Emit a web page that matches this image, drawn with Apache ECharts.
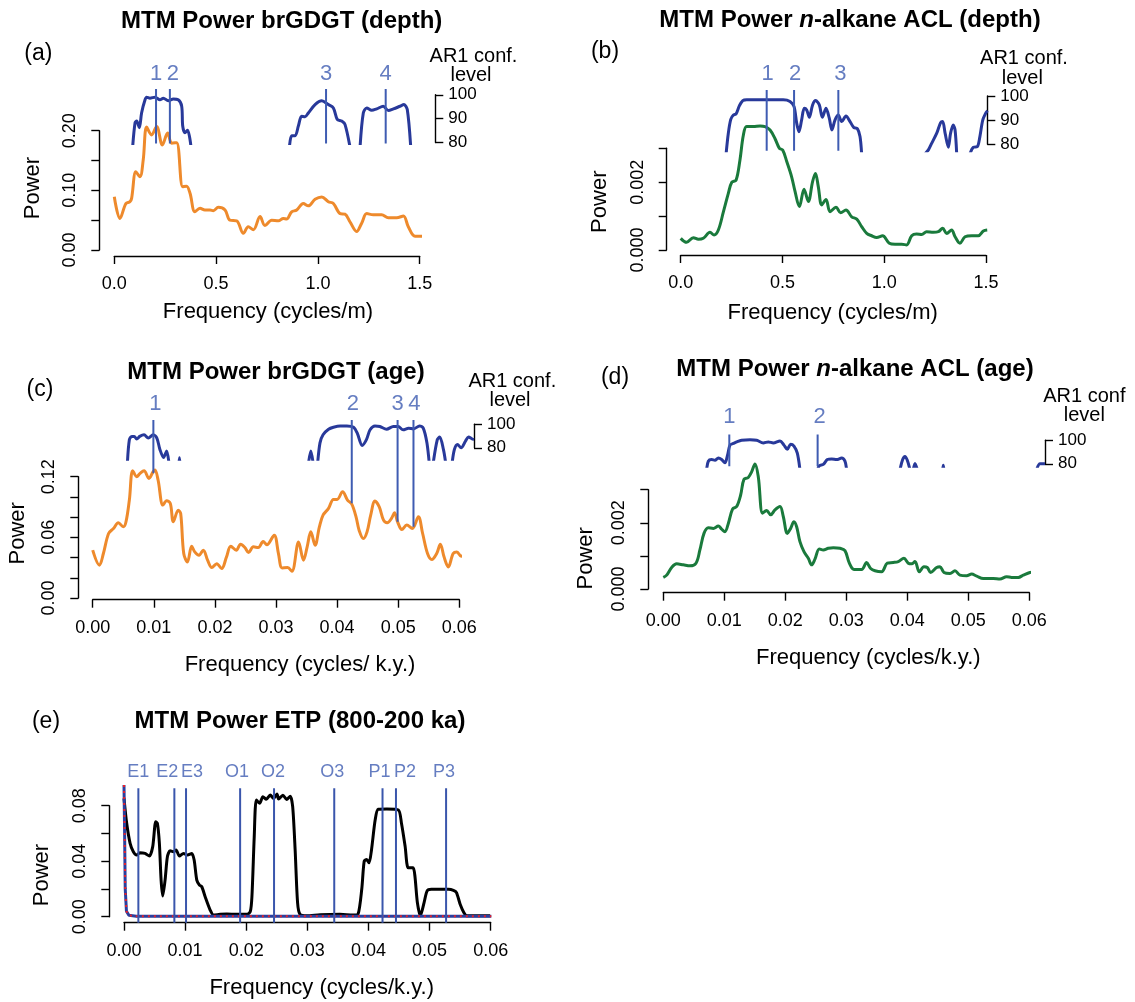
<!DOCTYPE html>
<html><head><meta charset="utf-8">
<script src="https://cdn.jsdelivr.net/npm/echarts@6/dist/echarts.min.js"></script>
<style>html,body{margin:0;padding:0;background:#fff}#c{width:1135px;height:1002px}</style>
</head><body><div id="c"></div>
<script>
// ================= DATA =================
// (a) brGDGT depth spectrum  [frequency cycles/m, power]
const brgdgtDepthPower = [[0,0.0894],[0.028,0.053],[0.057,0.078],[0.077,0.081],[0.085,0.0866],[0.106,0.131],[0.126,0.123],[0.142,0.151],[0.159,0.206],[0.183,0.193],[0.208,0.207],[0.236,0.176],[0.262,0.196],[0.282,0.179],[0.306,0.180],[0.336,0.106],[0.355,0.107],[0.372,0.095],[0.396,0.064],[0.421,0.070],[0.445,0.067],[0.470,0.067],[0.486,0.066],[0.511,0.0715],[0.544,0.067],[0.568,0.050],[0.601,0.049],[0.634,0.028],[0.658,0.039],[0.683,0.034],[0.716,0.056],[0.740,0.041],[0.773,0.050],[0.806,0.049],[0.830,0.053],[0.846,0.052],[0.871,0.064],[0.896,0.067],[0.928,0.078],[0.953,0.074],[0.986,0.085],[1.019,0.089],[1.051,0.081],[1.076,0.078],[1.109,0.061],[1.133,0.060],[1.158,0.047],[1.190,0.031],[1.215,0.045],[1.240,0.061],[1.272,0.059],[1.313,0.059],[1.346,0.054],[1.387,0.054],[1.420,0.057],[1.444,0.039],[1.477,0.023],[1.518,0.023],[1.562,0.032]];
const brgdgtDepthConf = [
  [[0.090,78],[0.102,88.3],[0.110,89],[0.123,86.2],[0.134,92.4],[0.151,97.9],[0.159,99],[0.175,98.6],[0.200,99],[0.224,97.9],[0.241,98.6],[0.265,97.5],[0.290,98.2],[0.314,97.9],[0.331,95.2],[0.336,86.9],[0.347,84.1],[0.360,85.1],[0.377,78]],
  [[0.860,78],[0.871,82.8],[0.888,82.8],[0.904,86.9],[0.920,91],[0.937,90.8],[0.953,92.4],[0.986,95.9],[1.019,97.5],[1.051,95.9],[1.076,94.5],[1.095,89.7],[1.117,89],[1.133,87.6],[1.158,78]],
  [[1.207,78],[1.223,92.4],[1.240,94.5],[1.264,93.5],[1.289,94.1],[1.321,95.2],[1.346,93.4],[1.371,94.1],[1.403,95.2],[1.423,95.9],[1.439,93.8],[1.456,78]]
];
const brgdgtDepthPeaks = [0.205, 0.273, 1.040, 1.333];
const brgdgtDepthPeakNames = ['1','2','3','4'];
const brgdgtDepthYLabels = [0, 0.10, 0.20];

// (b) n-alkane ACL depth spectrum
const aclDepthPower = [[0,0.000344],[0.029,0.000226],[0.062,0.000364],[0.087,0.000315],[0.111,0.000344],[0.144,0.000521],[0.164,0.000442],[0.185,0.00059],[0.210,0.00113],[0.234,0.00167],[0.251,0.0020],[0.272,0.00206],[0.291,0.00265],[0.308,0.00339],[0.324,0.00364],[0.357,0.00364],[0.390,0.00366],[0.414,0.00364],[0.439,0.00354],[0.463,0.00329],[0.485,0.0030],[0.501,0.00295],[0.521,0.00261],[0.545,0.00216],[0.562,0.00172],[0.583,0.00128],[0.606,0.00179],[0.627,0.00143],[0.648,0.00202],[0.662,0.00226],[0.676,0.00187],[0.693,0.00133],[0.714,0.00149],[0.734,0.00113],[0.763,0.00126],[0.786,0.0011],[0.812,0.00118],[0.840,0.00098],[0.865,0.00091],[0.889,0.00069],[0.914,0.00049],[0.938,0.00042],[0.963,0.00037],[0.992,0.00042],[1.025,0.0002],[1.053,0.00017],[1.086,0.00017],[1.110,0.00015],[1.135,0.00042],[1.159,0.00047],[1.184,0.00046],[1.208,0.00054],[1.241,0.00052],[1.266,0.00054],[1.287,0.00064],[1.307,0.00049],[1.331,0.00059],[1.348,0.00039],[1.372,0.0002],[1.397,0.00039],[1.430,0.00042],[1.462,0.00042],[1.487,0.00056],[1.506,0.00059]];
const aclDepthConf = [
  [[0.223,76],[0.234,84.6],[0.246,90.3],[0.259,92.1],[0.272,92.6],[0.288,95.9],[0.305,98.1],[0.324,98.4],[0.373,98.4],[0.439,98.4],[0.504,98.4],[0.537,97.7],[0.557,95.6],[0.570,88.7],[0.581,85.2],[0.594,90],[0.607,94.9],[0.619,94.2],[0.632,91.2],[0.648,96.3],[0.663,98.1],[0.681,96.3],[0.696,91.2],[0.714,94.9],[0.730,90.8],[0.743,85.9],[0.758,90],[0.774,92.1],[0.791,89.4],[0.812,91.7],[0.832,89.4],[0.851,86.9],[0.868,86.5],[0.881,83.2],[0.889,76]],
  [[1.200,76],[1.217,77.7],[1.233,80.4],[1.258,84.6],[1.277,89],[1.287,89.4],[1.299,84.6],[1.315,78.8],[1.326,84.6],[1.339,88],[1.348,85.9],[1.356,76]],
  [[1.421,76],[1.438,78.8],[1.457,79],[1.470,83.2],[1.484,90],[1.500,93.1],[1.508,93.9]]
];
const aclDepthPeaks = [0.4225, 0.557, 0.7745];
const aclDepthPeakNames = ['1','2','3'];
const aclDepthYLabels = [0, 0.002];

// (c) brGDGT age spectrum  [frequency cycles/k.y., power]
const brgdgtAgePower = [[0,0.0473],[0.0011,0.0324],[0.00175,0.044],[0.0026,0.0638],[0.0034,0.0688],[0.0042,0.0744],[0.005,0.0704],[0.00545,0.0754],[0.006,0.0969],[0.00655,0.126],[0.0072,0.12],[0.00775,0.1233],[0.0084,0.126],[0.0092,0.1183],[0.0099,0.125],[0.0102,0.1266],[0.0107,0.1167],[0.0115,0.0919],[0.0121,0.0962],[0.0127,0.0936],[0.0132,0.0754],[0.014,0.0869],[0.0144,0.0836],[0.0149,0.044],[0.0155,0.0357],[0.0162,0.0512],[0.0167,0.0456],[0.0174,0.0423],[0.0181,0.0473],[0.0188,0.0374],[0.0195,0.0301],[0.0203,0.034],[0.0211,0.0291],[0.0219,0.0407],[0.0226,0.0512],[0.0235,0.0473],[0.0242,0.0532],[0.0249,0.0499],[0.0255,0.045],[0.0263,0.0506],[0.0271,0.0499],[0.0279,0.0559],[0.0285,0.0526],[0.0297,0.0621],[0.0304,0.044],[0.031,0.0298],[0.0319,0.0301],[0.0326,0.0264],[0.0337,0.0555],[0.0345,0.0374],[0.0351,0.0506],[0.0357,0.0655],[0.0364,0.0522],[0.0371,0.0704],[0.0377,0.082],[0.0386,0.0886],[0.0394,0.0975],[0.04,0.0975],[0.0409,0.1051],[0.0417,0.0969],[0.0424,0.0929],[0.0431,0.0803],[0.0436,0.0671],[0.0443,0.0588],[0.0449,0.0654],[0.0455,0.082],[0.0462,0.0959],[0.0469,0.0902],[0.0476,0.077],[0.0482,0.0744],[0.0489,0.0787],[0.0494,0.0843],[0.0499,0.0754],[0.0506,0.0678],[0.0514,0.0721],[0.0523,0.0688],[0.0533,0.0803],[0.054,0.0638],[0.0548,0.044],[0.0555,0.038],[0.0563,0.044],[0.0569,0.0532],[0.0575,0.0407],[0.0582,0.0307],[0.059,0.044],[0.0596,0.0456],[0.0603,0.0413],[0.0615,0.0489],[0.0624,0.045]];
const brgdgtAgeConf = [
  [[0.00567,66],[0.006,86.9],[0.0064,89.7],[0.0068,89.7],[0.0072,87.5],[0.0077,89.7],[0.0084,91.1],[0.0091,88.3],[0.0099,91.1],[0.0105,88.3],[0.011,78.6],[0.0116,71.7],[0.0121,77.2],[0.0125,66]],
  [[0.0141,66],[0.0142,71.5],[0.0143,66]],
  [[0.0353,66],[0.0357,77.2],[0.0361,66]],
  [[0.0368,66],[0.0372,84.2],[0.0377,91.1],[0.0386,95.8],[0.0394,97.5],[0.0405,98.6],[0.0416,98.6],[0.0427,97.5],[0.0433,92.5],[0.0441,81.9],[0.0448,86.9],[0.0454,95.3],[0.0462,98.6],[0.047,98.1],[0.0481,95.8],[0.0492,98.1],[0.05,98.1],[0.0508,95.3],[0.0517,96.7],[0.0525,96.1],[0.0535,98.6],[0.0541,96.7],[0.0547,84.2],[0.0551,66]],
  [[0.0557,66],[0.0564,86.9],[0.0568,89.2],[0.0574,78.6],[0.0578,66]],
  [[0.0588,66],[0.0592,78.6],[0.0597,82.8],[0.0603,80],[0.061,85.6],[0.0615,89.2],[0.0621,87.5],[0.0624,87]]
];
const brgdgtAgePeaks = [0.00993, 0.0424, 0.0499, 0.0525];
const brgdgtAgePeakFloor = [0.1234, 0.0937, 0.0755, 0.0705];
const brgdgtAgePeakNames = ['1','2','3','4'];
const brgdgtAgeYLabels = [0, 0.06, 0.12];

// (d) n-alkane ACL age spectrum
const aclAgePower = [[0,0.00035],[0.00055,0.00042],[0.00137,0.00065],[0.00219,0.00076],[0.00328,0.00073],[0.00437,0.0007],[0.00536,0.00078],[0.006,0.00118],[0.00667,0.00168],[0.00738,0.00185],[0.0082,0.00183],[0.00902,0.0019],[0.00956,0.00181],[0.0101,0.00173],[0.01066,0.00198],[0.01137,0.00242],[0.01202,0.00249],[0.01268,0.00284],[0.01322,0.00331],[0.01393,0.00337],[0.01448,0.00354],[0.01503,0.00378],[0.01557,0.00339],[0.01628,0.00229],[0.01694,0.00237],[0.0176,0.00224],[0.01831,0.00239],[0.01913,0.00249],[0.01967,0.00219],[0.02033,0.00168],[0.02087,0.00183],[0.02142,0.00203],[0.02186,0.00188],[0.0224,0.00143],[0.02306,0.00113],[0.02377,0.00093],[0.02432,0.00073],[0.02486,0.0009],[0.02557,0.00121],[0.02623,0.00118],[0.02705,0.00123],[0.02787,0.00125],[0.02896,0.00123],[0.02978,0.00116],[0.0305,0.00078],[0.03126,0.00059],[0.03251,0.00059],[0.03333,0.0008],[0.03399,0.00062],[0.0347,0.00055],[0.03579,0.00052],[0.03672,0.00078],[0.0377,0.0008],[0.03852,0.00083],[0.03945,0.00093],[0.04016,0.00078],[0.04071,0.00076],[0.04126,0.00083],[0.04197,0.00052],[0.04273,0.00067],[0.04328,0.00065],[0.04383,0.0005],[0.04481,0.00065],[0.04536,0.00067],[0.04601,0.0005],[0.047,0.00047],[0.04781,0.00055],[0.04863,0.00042],[0.04973,0.0004],[0.05055,0.00045],[0.05137,0.00039],[0.05246,0.00032],[0.0541,0.00032],[0.05519,0.0003],[0.05628,0.00037],[0.0571,0.00035],[0.0582,0.00035],[0.05902,0.00042],[0.06011,0.0005],[0.0612,0.00052],[0.06257,0.00052]];
const aclAgeConf = [
  [[0.0071,75],[0.00738,82.2],[0.00792,83.6],[0.00847,83],[0.00902,84.9],[0.00956,83.6],[0.0101,80.8],[0.01055,87.7],[0.01093,95.9],[0.01148,97.3],[0.01202,98.6],[0.01284,100],[0.01421,100.4],[0.0153,100],[0.01639,97.8],[0.01721,98.6],[0.01803,97.8],[0.01913,99.5],[0.01978,95.9],[0.02033,92.3],[0.02087,96.7],[0.02142,95.1],[0.02197,89],[0.0224,75]],
  [[0.0253,75],[0.0256,78.5],[0.02623,79.5],[0.02689,83.6],[0.0276,84.1],[0.02842,83.6],[0.02923,84.9],[0.02978,82.2],[0.03005,75]],
  [[0.0388,75],[0.03924,83.6],[0.03962,86.3],[0.04,83],[0.04044,75]],
  [[0.04098,75],[0.04126,80.3],[0.04164,75]],
  [[0.0458,75],[0.0459,78.8],[0.046,75]],
  [[0.0612,75],[0.06175,80],[0.06257,80]]
];
const aclAgePeaks = [0.01082, 0.0253];
const aclAgePeakNames = ['1','2'];
const aclAgeYLabels = [0, 0.002];

// (e) ETP spectrum
const etpPower = [[0,0.0853],[0.00044,0.0673],[0.001,0.0529],[0.00153,0.0468],[0.00208,0.0444],[0.0026,0.0461],[0.00344,0.0456],[0.00415,0.0437],[0.0047,0.0505],[0.00519,0.0685],[0.00546,0.0673],[0.00579,0.0529],[0.00607,0.0264],[0.00634,0.0149],[0.00672,0.0264],[0.0071,0.0432],[0.00754,0.0476],[0.00809,0.0468],[0.00852,0.048],[0.00907,0.0437],[0.00973,0.0456],[0.01038,0.0444],[0.01109,0.0456],[0.01148,0.0408],[0.01191,0.0264],[0.01235,0.0228],[0.01273,0.0216],[0.01328,0.0144],[0.0141,0.0048],[0.01464,0.0012],[0.01574,0.0017],[0.01683,0.0019],[0.01847,0.0017],[0.02011,0.0017],[0.02066,0.0036],[0.02093,0.0144],[0.02131,0.0577],[0.02164,0.0841],[0.02219,0.0817],[0.02273,0.0865],[0.02328,0.0846],[0.02393,0.0877],[0.02448,0.0853],[0.02503,0.0884],[0.0253,0.0848],[0.026,0.0876],[0.0266,0.0845],[0.0272,0.0869],[0.0276,0.0793],[0.028,0.0483],[0.0284,0.0102],[0.0288,0.0017],[0.0299,0.0007],[0.0321,0.0014],[0.0353,0.0017],[0.0375,0.0012],[0.0383,0.0019],[0.0389,0.0198],[0.0393,0.04],[0.0397,0.0412],[0.0401,0.0388],[0.0405,0.0483],[0.0411,0.0698],[0.0416,0.0774],[0.043,0.0776],[0.0449,0.0769],[0.0454,0.0674],[0.046,0.0507],[0.0465,0.0352],[0.0473,0.0352],[0.0476,0.0293],[0.048,0.0102],[0.0485,0.0007],[0.0491,0.0102],[0.0496,0.0186],[0.0503,0.0198],[0.0517,0.0198],[0.0531,0.0198],[0.0539,0.019],[0.0544,0.0174],[0.055,0.009],[0.0556,0.0031],[0.0561,0.0007],[0.0599,0.0007]];
const etpBackground = [[0,0.0949],[0.0001,0.06],[0.0002,0.02],[0.0004,0.004],[0.0008,0.001],[0.002,0.0004],[0.0601,0.0003]];
const etpPeaks = [0.00235, 0.00824, 0.01015, 0.019, 0.02455, 0.0344, 0.0423, 0.0445, 0.0527];
const etpPeakNames = ['E1','E2','E3','O1','O2','O3','P1','P2','P3'];
const etpYLabels = [0, 0.04, 0.08];

// texts
const panelTitles = ['MTM Power brGDGT (depth)', ['MTM Power ', 'n', '-alkane ACL (depth)'], 'MTM Power brGDGT (age)', ['MTM Power ', 'n', '-alkane ACL (age)'], 'MTM Power ETP (800-200 ka)'];
const panelLetters = ['(a)','(b)','(c)','(d)','(e)'];
const xTitles = ['Frequency (cycles/m)','Frequency (cycles/m)','Frequency (cycles/ k.y.)','Frequency (cycles/k.y.)','Frequency (cycles/k.y.)'];
const yTitle = 'Power';
const confTitles = [['AR1 conf.','level'],['AR1 conf.','level'],['AR1 conf.','level'],['AR1 conf','level'],null];

// ================= STYLE / LAYOUT =================
const FONT = '"Liberation Sans", Arial, Helvetica, sans-serif';
const COL = {orange:'#EE8A2C', green:'#1A7A3C', navy:'#28399A', mark:'#3F5CB2', black:'#000000', red:'#E8202A'};
const AX = {color:'#000', width:1.4};

const LAYOUT = [
  {x0:114.3, x1:419.7, yTop:130.7, y0:250, xMax:1.5, xInt:0.5, xDec:1, yMax:0.2, yInt:0.05, yDec:2, xOff:6, yOff:15,
   inset:{p100:94.8, p80:142.5, clip:79.6, top:106, xMax:1.6, bx:436.3, int:10}, peakTop:102.4, peakOnInset:true, labelDist:4, labelOffsets:[0,3,0,0], labelSize:22,
   title:[281.7,21.7], letter:[38.3,53.3], conf:[[473.5,56],[471,75.5]], xTitle:[268,312], yTitle:[33,188]},
  {x0:680.7, x1:986, yTop:148.3, y0:250, xMax:1.5, xInt:0.5, xDec:1, yMax:0.003, yInt:0.001, yDec:3, xOff:5, yOff:14,
   inset:{p100:96, p80:144.3, clip:77.35, top:106, xMax:1.6, bx:988.3, int:10}, peakTop:102.5, peakOnInset:true, labelDist:5, labelOffsets:[1,1,2], labelSize:22,
   title:[850,20.7], letter:[605,51.7], conf:[[1024,58.3],[1022.3,78.3]], xTitle:[832.7,313.3], yTitle:[600,201.7]},
  {x0:92.7, x1:459.3, yTop:476.7, y0:598, xMax:0.06, xInt:0.01, xDec:2, yMax:0.12, yInt:0.02, yDec:2, xOff:1.7, yOff:14.4,
   inset:{p100:424.3, p80:447.8, clip:70.3, top:106, xMax:0.065, bx:475, int:20}, peakTop:0.1761, peakOnInset:false, labelDist:5, labelOffsets:[2,1,0,1], labelSize:22,
   title:[276,372.3], letter:[40,389.3], conf:[[512.3,381.7],[510,400.7]], xTitle:[300,665], yTitle:[18.3,533.3]},
  {x0:663.3, x1:1029.3, yTop:489.7, y0:589, xMax:0.06, xInt:0.01, xDec:2, yMax:0.003, yInt:0.001, yDec:3, xOff:3.7, yOff:15,
   inset:{p100:440.3, p80:463.8, clip:78.0, top:106, xMax:0.065, bx:1046, int:20}, peakTop:104.9, peakOnInset:true, labelDist:6, labelOffsets:[0,2], labelSize:22,
   title:[855,369.3], letter:[615,378], conf:[[1084.3,396.7],[1084.3,415]], xTitle:[868.3,658.3], yTitle:[585.7,558.3]},
  {x0:124, x1:490.7, yTop:805.7, y0:916.7, xMax:0.06, xInt:0.01, xDec:2, yMax:0.08, yInt:0.02, yDec:2, xOff:6, yOff:14.7,
   inset:null, peakTop:0.0925, peakBottom:-0.0043, peakOnInset:false, labelDist:7, labelOffsets:[0,-7,6,-3,-1,-2,-3,9,-2], labelSize:18,
   title:[300,721.7], letter:[46,721.7], conf:null, xTitle:[321.7,988.3], yTitle:[41.7,875]}
];

const PANEL_DATA = [
  {power:brgdgtDepthPower, color:COL.orange, conf:brgdgtDepthConf, peaks:brgdgtDepthPeaks, names:brgdgtDepthPeakNames, yLabels:brgdgtDepthYLabels},
  {power:aclDepthPower, color:COL.green, conf:aclDepthConf, peaks:aclDepthPeaks, names:aclDepthPeakNames, yLabels:aclDepthYLabels},
  {power:brgdgtAgePower, color:COL.orange, conf:brgdgtAgeConf, peaks:brgdgtAgePeaks, floor:brgdgtAgePeakFloor, names:brgdgtAgePeakNames, yLabels:brgdgtAgeYLabels},
  {power:aclAgePower, color:COL.green, conf:aclAgeConf, peaks:aclAgePeaks, names:aclAgePeakNames, yLabels:aclAgeYLabels},
  {power:etpPower, color:COL.black, background:etpBackground, peaks:etpPeaks, names:etpPeakNames, yLabels:etpYLabels}
];

// ================= BUILD =================
const grids = [], xAxes = [], yAxes = [], series = [], graphics = [];

function addGrid(left, top, width, height, xAxis, yAxis) {
  const i = grids.length;
  grids.push({left, top, width, height, containLabel:false});
  xAxes.push(Object.assign({gridIndex:i, type:'value', splitLine:{show:false}}, xAxis));
  yAxes.push(Object.assign({gridIndex:i, type:'value', splitLine:{show:false}}, yAxis));
  return i;
}

function lineSeries(gi, data, color, width, opts) {
  return Object.assign({type:'line', xAxisIndex:gi, yAxisIndex:gi, data, symbol:'none', showSymbol:false,
    smooth:0.35, clip:false, silent:true, animation:false, lineStyle:{color, width}, z:3}, opts || {});
}

LAYOUT.forEach((P, k) => {
  const D = PANEL_DATA[k];
  const gm = addGrid(P.x0, P.yTop, P.x1 - P.x0, P.y0 - P.yTop,
    {min:0, max:P.xMax, interval:P.xInt, offset:P.xOff,
     axisLine:{show:true, onZero:false, lineStyle:AX}, axisTick:{show:true, length:8, lineStyle:AX},
     axisLabel:{color:'#000', fontSize:18, fontFamily:FONT, margin:19, formatter:v => v.toFixed(P.xDec)}},
    {min:0, max:P.yMax, interval:P.yInt, offset:P.yOff,
     axisLine:{show:true, onZero:false, lineStyle:AX}, axisTick:{show:true, length:8, lineStyle:AX},
     axisLabel:{color:'#000', fontSize:18, fontFamily:FONT, margin:20, rotate:90, customValues:D.yLabels, formatter:v => v.toFixed(P.yDec)}});

  let gi = null;
  if (P.inset) {
    const I = P.inset, ppu = (I.p80 - I.p100) / 20;
    const top = I.p100 - (I.top - 100) * ppu, bottom = I.p80 + (80 - I.clip) * ppu;
    const right = P.x0 + I.xMax * (P.x1 - P.x0) / P.xMax;
    gi = addGrid(P.x0, top, right - P.x0, bottom - top,
      {min:0, max:I.xMax, show:false}, {min:I.clip, max:I.top, show:false});
    D.conf.forEach(seg => series.push(lineSeries(gi, seg, COL.navy, 3, {clip:true, smooth:0.3})));
    // AR1 confidence bracket axis
    addGrid(I.bx - 1, I.p100, 1, I.p80 - I.p100,
      {min:0, max:1, show:false},
      {min:80, max:100, interval:I.int, position:'right',
       axisLine:{show:true, lineStyle:AX}, axisTick:{show:true, length:8, lineStyle:AX},
       axisLabel:{color:'#000', fontSize:17, fontFamily:FONT, margin:12}});
  }

  if (D.background) {
    series.push(lineSeries(gm, D.background, '#2B3F9E', 3, {smooth:false, z:4}));
    series.push(lineSeries(gm, D.background, COL.red, 2, {smooth:false, z:5, lineStyle:{color:COL.red, width:2, type:[2,4]}}));
  }
  series.push(lineSeries(gm, D.power, D.color, 3, {smooth: k === 4 ? 0.25 : 0.35}));

  // significant-peak marker lines
  const pg = P.peakOnInset ? gi : gm;
  const bottomVal = i => P.peakOnInset ? P.inset.clip : (D.floor ? D.floor[i] : P.peakBottom);
  const labelData = [];
  D.peaks.forEach((x, i) => {
    series.push(lineSeries(pg, [[x, bottomVal(i)], [x, P.peakTop]], k === 4 ? '#3A56AC' : COL.mark, 2, {smooth:false, z:6}));
    labelData.push({name:D.names[i], value:[x, P.peakTop], label:{offset:[P.labelOffsets[i] || 0, 0]}});
  });
  series.push({type:'scatter', xAxisIndex:pg, yAxisIndex:pg, data:labelData, symbol:'circle', symbolSize:1,
    clip:false, silent:true, animation:false, itemStyle:{color:'rgba(0,0,0,0)'},
    label:{show:true, position:'top', distance:P.labelDist, formatter:'{b}', color:COL.mark,
      fontSize:P.labelSize, fontFamily:FONT}});

  // texts
  const t = panelTitles[k];
  if (Array.isArray(t)) {
    graphics.push({type:'text', x:P.title[0], y:P.title[1], silent:true, style:{
      text:'{b|' + t[0] + '}{i|' + t[1] + '}{b|' + t[2] + '}',
      rich:{b:{fontSize:24, fontWeight:'bold', fontFamily:FONT, fill:'#000'}, i:{fontSize:24, fontWeight:'bold', fontStyle:'italic', fontFamily:FONT, fill:'#000'}},
      align:'center', verticalAlign:'middle', textAlign:'center', textVerticalAlign:'middle'}});
  } else {
    graphics.push({type:'text', x:P.title[0], y:P.title[1], silent:true, style:{text:t, fontSize:24, fontWeight:'bold', fontFamily:FONT, fill:'#000',
      align:'center', verticalAlign:'middle', textAlign:'center', textVerticalAlign:'middle'}});
  }
  const txt = (s, x, y, size, rot) => graphics.push({type:'text', x, y, rotation:rot || 0, silent:true,
    style:{text:s, fontSize:size, fontFamily:FONT, fill:'#000', align:'center', verticalAlign:'middle', textAlign:'center', textVerticalAlign:'middle'}});
  txt(panelLetters[k], P.letter[0], P.letter[1], 23);
  txt(xTitles[k], P.xTitle[0], P.xTitle[1], 22);
  txt(yTitle, P.yTitle[0], P.yTitle[1], 22, Math.PI / 2);
  if (confTitles[k]) {
    txt(confTitles[k][0], P.conf[0][0], P.conf[0][1], 20);
    txt(confTitles[k][1], P.conf[1][0], P.conf[1][1], 20);
  }
});

const chart = echarts.init(document.getElementById('c'), null, {renderer:'canvas'});
chart.setOption({
  backgroundColor:'#ffffff',
  animation:false,
  textStyle:{fontFamily:FONT},
  grid:grids, xAxis:xAxes, yAxis:yAxes, series, graphic:graphics
});
</script></body></html>
